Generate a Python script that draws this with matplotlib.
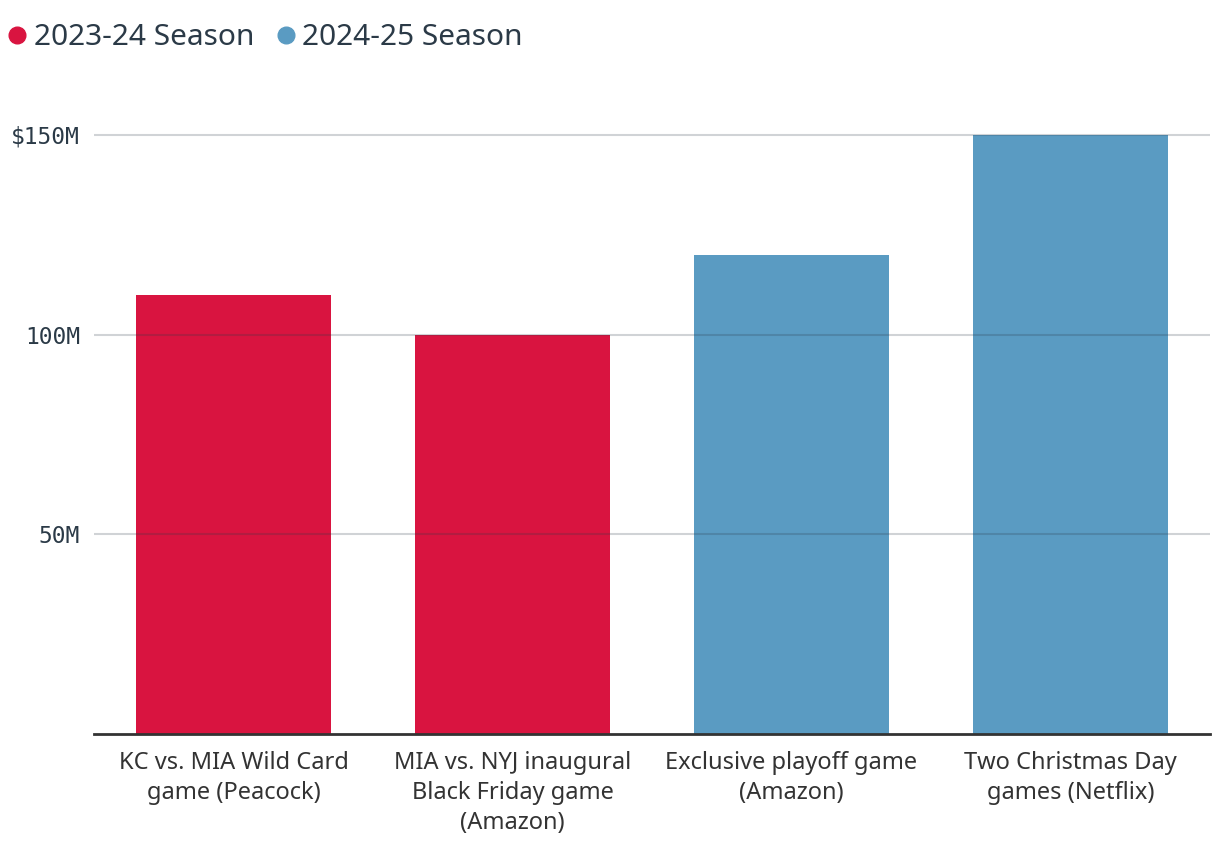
import matplotlib
matplotlib.use('Agg')

import matplotlib.pyplot as plt
from matplotlib.lines import Line2D

# data (millions of dollars)
categories = [
    'KC vs. MIA Wild Card\ngame (Peacock)',
    'MIA vs. NYJ inaugural\nBlack Friday game\n(Amazon)',
    'Exclusive playoff game\n(Amazon)',
    'Two Christmas Day\ngames (Netflix)',
]
values = [110, 100, 120, 150]
seasons = ['2023-24 Season', '2023-24 Season', '2024-25 Season', '2024-25 Season']
season_names = ['2023-24 Season', '2024-25 Season']
season_colors = {'2023-24 Season': '#D91440', '2024-25 Season': '#5A9BC2'}
yticks = [50, 100, 150]
ytick_labels = ['50M', '100M', '$150M']

text_col = '#2B3A47'

fig = plt.figure(figsize=(12.2, 8.52), dpi=100)
ax = fig.add_axes([0.077, 0.1385, 0.9148, 0.75])

x = range(len(categories))
ax.bar(x, values, width=0.7, color=[season_colors[s] for s in seasons], zorder=2)

ax.set_xlim(-0.5, len(categories) - 0.5)
ax.set_ylim(0, 160)

ax.set_yticks(yticks)
ax.set_yticklabels(ytick_labels, family='DejaVu Sans Mono', fontsize=16.5, color=text_col)
ax.set_xticks(list(x))
ax.set_xticklabels(categories, family='Noto Sans', fontsize=17, color='#333333', linespacing=1.33)
ax.tick_params(axis='both', length=0)
ax.tick_params(axis='y', pad=10)
ax.tick_params(axis='x', pad=12.5)

# gridlines on top of bars, translucent
for t in yticks:
    ax.axhline(t, color=text_col, alpha=0.22, lw=1.5, zorder=3)

for side in ['top', 'right', 'left']:
    ax.spines[side].set_visible(False)
ax.spines['bottom'].set_color('#333333')
ax.spines['bottom'].set_linewidth(2)
ax.spines['bottom'].set_zorder(4)

handles = [Line2D([], [], marker='o', ls='', markersize=12, color=season_colors[s]) for s in season_names]
fig.legend(handles, season_names, loc='upper left', bbox_to_anchor=(-0.0175, 1.004), ncol=2,
           frameon=False, handletextpad=0.15, columnspacing=0.65, handlelength=0.8,
           prop={'family': 'Noto Sans', 'size': 21.5}, labelcolor=text_col)

fig.savefig('out.png', dpi=100)
